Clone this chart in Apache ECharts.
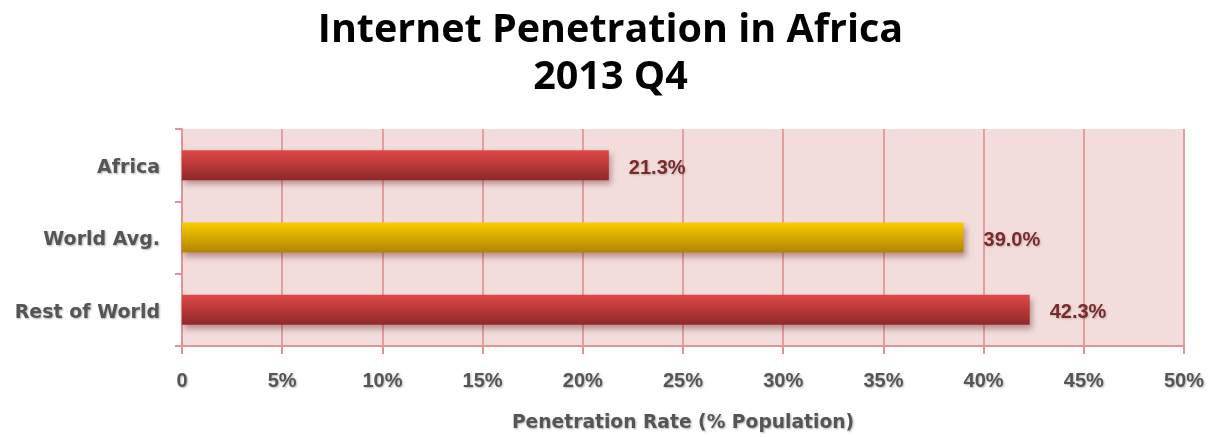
<!DOCTYPE html>
<html><head><meta charset="utf-8">
<script src="https://cdn.jsdelivr.net/npm/echarts@6/dist/echarts.min.js"></script>
<style>html,body{margin:0;padding:0;background:#fff}#c{width:1221px;height:437px}</style>
</head><body><div id="c"></div>
<script>
const categories = ['Rest of World', 'World Avg.', 'Africa'];
const values = [42.3, 39.0, 21.3];
const xTicks = ['0', '5%', '10%', '15%', '20%', '25%', '30%', '35%', '40%', '45%', '50%'];

const red = new echarts.graphic.LinearGradient(0,0,0,1,[{offset:0,color:'#e04848'},{offset:1,color:'#8e2828'}]);
const yellow = new echarts.graphic.LinearGradient(0,0,0,1,[{offset:0,color:'#fbcc00'},{offset:1,color:'#b08400'}]);
const colors = [red, yellow, red];
const FONT = 'DejaVu Sans, Verdana, sans-serif';
const NUMFONT = 'Liberation Sans, Arial, sans-serif';
const shadowText = {textShadowColor:'rgba(0,0,0,0.3)', textShadowBlur:2, textShadowOffsetX:1, textShadowOffsetY:1};

const chart = echarts.init(document.getElementById('c'));
chart.setOption({
  animation:false,
  title:{
    text:'Internet Penetration in Africa\n2013 Q4',
    left:'center', top:2,
    textStyle:{fontFamily:'Open Sans, sans-serif', fontSize:39.5, fontWeight:'bold', color:'#000', lineHeight:47}
  },
  grid:{left:182, right:37, top:129, bottom:91, show:true, backgroundColor:'#f2dcdc', borderWidth:0},
  xAxis:{
    type:'value', min:0, max:50, interval:5,
    name:'Penetration Rate (% Population)', nameLocation:'middle', nameGap:68,
    nameTextStyle:Object.assign({fontFamily:FONT, fontSize:18.7, fontWeight:'bold', color:'#555'}, shadowText),
    axisLine:{show:true, lineStyle:{color:'#e09494', width:2}},
    axisTick:{show:true, length:8, lineStyle:{color:'#e09494', width:2}},
    splitLine:{show:true, lineStyle:{color:'#e0a0a0', width:2}},
    axisLabel:Object.assign({margin:25, fontFamily:NUMFONT, fontSize:20, fontWeight:'bold', color:'#555',
      formatter:(v)=>xTicks[Math.round(v/5)]}, shadowText)
  },
  yAxis:{
    type:'category', data:categories,
    axisLine:{show:true, lineStyle:{color:'#e09494', width:2}},
    axisTick:{show:true, length:7, lineStyle:{color:'#e09494', width:2}},
    axisLabel:{margin:22, formatter:(v)=>'{a|'+v+'}',
      rich:{a:Object.assign({padding:[6,0,0,0], fontFamily:FONT, fontSize:19, fontWeight:'bold', color:'#555'}, shadowText)}}
  },
  series:[{
    type:'bar', barWidth:30,
    data: values.map((v,i)=>({value:v, itemStyle:{color:colors[i]}})),
    itemStyle:{shadowColor:'rgba(80,0,0,0.35)', shadowBlur:6, shadowOffsetY:4, shadowOffsetX:2},
    label:{show:true, position:'right', distance:20, offset:[0,3], formatter:(p)=>p.value.toFixed(1)+'%',
      fontFamily:NUMFONT, fontSize:20, fontWeight:'bold', color:'#7a2a2a',
      textShadowColor:'rgba(0,0,0,0.2)', textShadowBlur:2, textShadowOffsetX:1, textShadowOffsetY:1}
  }]
});
</script></body></html>
